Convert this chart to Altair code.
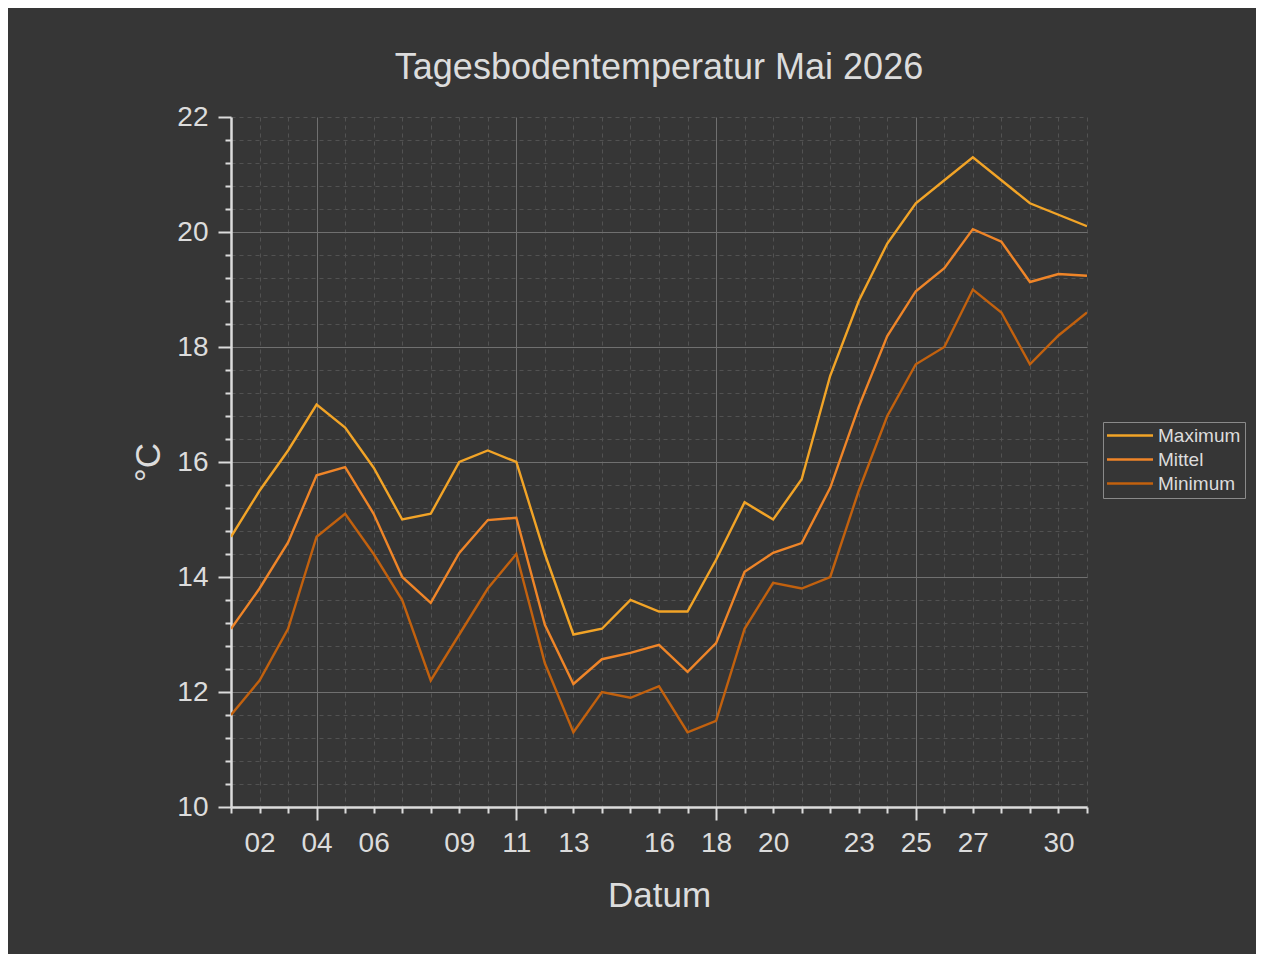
import altair as alt
import pandas as pd

days = list(range(1, 32))
maximum = [14.7, 15.5, 16.2, 17.0, 16.6, 15.9, 15.0, 15.1, 16.0, 16.2,
           16.0, 14.4, 13.0, 13.1, 13.6, 13.4, 13.4, 14.3, 15.3, 15.0,
           15.7, 17.5, 18.8, 19.8, 20.5, 20.9, 21.3, 20.9, 20.5, 20.3, 20.1]
mittel = [13.1, 13.8, 14.6, 15.77, 15.91, 15.1, 14.0, 13.55, 14.42, 14.99,
          15.03, 13.17, 12.14, 12.57, 12.68, 12.82, 12.35, 12.85, 14.09, 14.42,
          14.59, 15.55, 16.96, 18.19, 18.97, 19.37, 20.05, 19.83, 19.13, 19.27, 19.24]
minimum = [11.6, 12.2, 13.1, 14.7, 15.1, 14.4, 13.6, 12.2, 13.0, 13.8,
           14.4, 12.5, 11.3, 12.0, 11.9, 12.1, 11.3, 11.5, 13.1, 13.9,
           13.8, 14.0, 15.5, 16.8, 17.7, 18.0, 19.0, 18.6, 17.7, 18.2, 18.6]
series_names = ["Maximum", "Mittel", "Minimum"]
series_colors = ["#f2a427", "#ef8528", "#c2610e"]
x_labels = [2, 4, 6, 9, 11, 13, 16, 18, 20, 23, 25, 27, 30]
x_major = [4, 11, 18, 25]
y_ticks = [round(10 + 0.4 * i, 1) for i in range(31)]

rows = []
for name, vals in zip(series_names, [maximum, mittel, minimum]):
    for d, v in zip(days, vals):
        rows.append({"Tag": d, "Wert": v, "Serie": name})
df = pd.DataFrame(rows)

BG = "#363636"
FG = "#dcdcdc"
MAJOR_GRID = "#707070"
MINOR_GRID = "#525252"
FONT = "Liberation Sans"

x_major_test = "indexof(%s, datum.value) >= 0" % str(x_major)
x_label_expr = ("indexof(%s, datum.value) >= 0 ? (datum.value < 10 ? '0' + datum.value : '' + datum.value) : ''"
                % str(x_labels))
y_even_test = "abs(datum.value / 2 - round(datum.value / 2)) < 0.001"
y_grid_major_test = y_even_test + " && datum.value > 10.5 && datum.value < 21.5"

x_axis = alt.Axis(
    values=days,
    labelExpr=x_label_expr,
    title="Datum",
    grid=True,
    gridColor={"condition": {"test": x_major_test, "value": MAJOR_GRID}, "value": MINOR_GRID},
    gridDash={"condition": {"test": x_major_test, "value": []}, "value": [4, 4]},
    gridWidth=1,
    tickSize={"condition": {"test": x_major_test, "value": 13}, "value": 6},
    tickColor=FG,
    tickWidth=2,
    domainColor=FG,
    domainWidth=2.5,
    labelColor=FG,
    labelFont=FONT,
    labelFontSize=28,
    labelPadding={"condition": {"test": x_major_test, "value": 9}, "value": 16},
    labelFlush=False,
    labelOverlap=False,
    titleColor=FG,
    titleFont=FONT,
    titleFontSize=35,
    titleFontWeight="normal",
    titlePadding=21,
)

y_axis = alt.Axis(
    values=y_ticks,
    labelExpr="%s ? format(datum.value, 'd') : ''" % y_even_test,
    title="°C",
    grid=True,
    gridColor={"condition": {"test": y_grid_major_test, "value": MAJOR_GRID}, "value": MINOR_GRID},
    gridDash={"condition": {"test": y_grid_major_test, "value": []}, "value": [4, 4]},
    gridWidth=1,
    tickSize={"condition": {"test": y_even_test, "value": 13}, "value": 6},
    tickColor=FG,
    tickWidth=2,
    domainColor=FG,
    domainWidth=2.5,
    labelColor=FG,
    labelFont=FONT,
    labelFontSize=28,
    labelPadding=10,
    labelFlush=False,
    labelOverlap=False,
    titleColor=FG,
    titleFont=FONT,
    titleFontSize=35,
    titleFontWeight="normal",
    titlePadding=10,
)

chart = alt.Chart(df).mark_line(strokeWidth=2.4, clip=True).encode(
    x=alt.X("Tag:Q", scale=alt.Scale(domain=[1, 31], nice=False, zero=False), axis=x_axis),
    y=alt.Y("Wert:Q", scale=alt.Scale(domain=[10, 22], nice=False, zero=False), axis=y_axis),
    color=alt.Color(
        "Serie:N",
        scale=alt.Scale(domain=series_names, range=series_colors),
        legend=alt.Legend(
            title=None,
            orient="none",
            legendX=872,
            legendY=305,
            symbolType="M-1.1875,0H4.5625",
            symbolSize=256,
            symbolStrokeWidth=2.5,
            labelFont=FONT,
            labelFontSize=19,
            labelColor=FG,
            labelOffset=32,
            strokeColor="#8a8a8a",
            padding=4,
            rowPadding=4,
        ),
    ),
    order=alt.Order("Tag:Q"),
).properties(
    width=856,
    height=690,
    autosize=alt.AutoSizeParams(type="none"),
    padding={"left": 223, "top": 109, "right": 169, "bottom": 147},
    background=BG,
    title=alt.TitleParams(
        "Tagesbodentemperatur Mai 2026",
        font=FONT,
        fontSize=36,
        fontWeight="normal",
        color=FG,
        anchor="middle",
        offset=16,
    ),
).configure_view(stroke=None)

chart.save("out.html", embed_options={"renderer": "svg", "actions": False})
